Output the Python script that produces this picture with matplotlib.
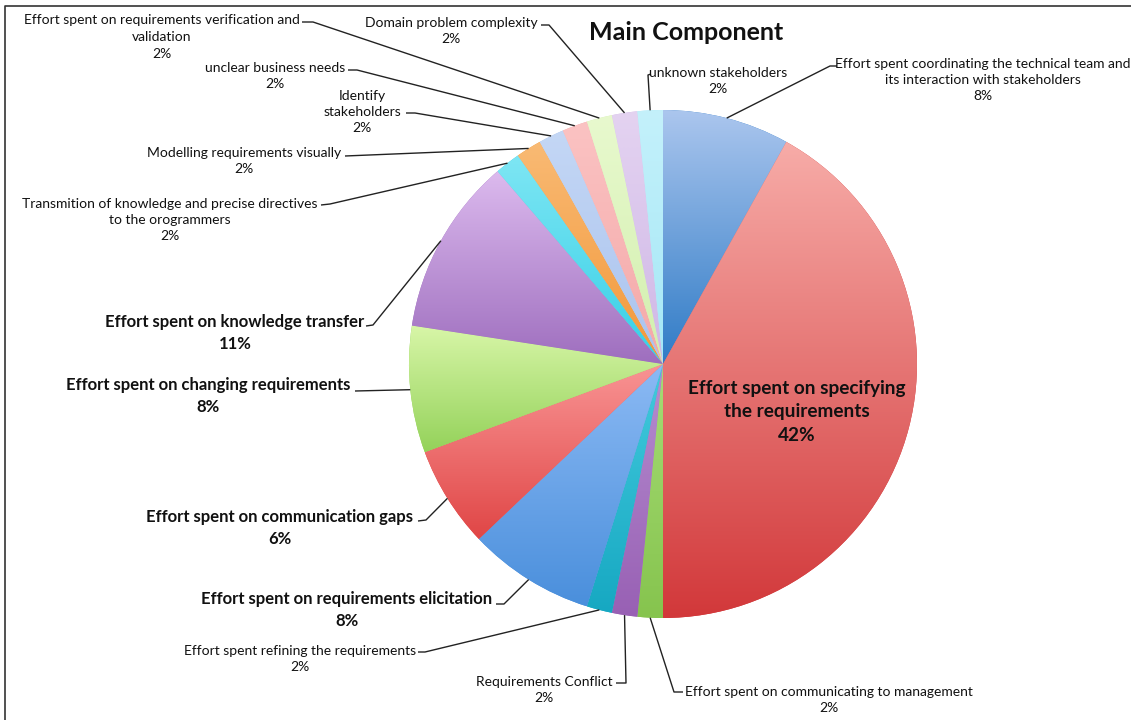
import matplotlib.pyplot as plt
import numpy as np
from matplotlib.colors import LinearSegmentedColormap

W, H = 1131, 720

labels = [
    "Effort spent coordinating the technical team and\nits interaction with stakeholders",
    "Effort spent on specifying\nthe requirements",
    "Effort spent on communicating to management",
    "Requirements Conflict",
    "Effort spent refining the requirements",
    "Effort spent on requirements elicitation",
    "Effort spent on communication gaps",
    "Effort spent on changing requirements",
    "Effort spent on knowledge transfer",
    "Transmition of knowledge and precise directives\nto the orogrammers",
    "Modelling requirements visually",
    "Identify\nstakeholders",
    "unclear business needs",
    "Effort spent on requirements verification and\nvalidation",
    "Domain problem complexity",
    "unknown stakeholders",
]
counts = [5, 26, 1, 1, 1, 5, 4, 5, 7, 1, 1, 1, 1, 1, 1, 1]
bold_labels = [1, 5, 6, 7, 8]

# gradient fill per slice: (top colour, bottom colour)
shades = [
    ("#abc6ee", "#2f7bc6"),
    ("#f7aca8", "#d2383a"),
    ("#a6dc76", "#86c44e"),
    ("#b68ed0", "#9860b4"),
    ("#44cadd", "#16a8c2"),
    ("#8cbaf4", "#4a8fdc"),
    ("#f99494", "#e04646"),
    ("#d8f6a8", "#94d25a"),
    ("#dcbaee", "#9e6ebe"),
    ("#7ee6f4", "#36cfe6"),
    ("#f9ba74", "#f2983a"),
    ("#c4d7f5", "#aac3ee"),
    ("#fbc3c3", "#f4a8a8"),
    ("#e8f9ce", "#d2efae"),
    ("#e4d3f1", "#cfb7e6"),
    ("#c4f1fb", "#a4e7f6"),
]

# label placement in pixel space (y down): block centre, then leader path from
# the elbow to the point next to the text
label_pos = [
    (983, 80), (797, 412), (829, 700), (544, 690), (300, 659), (347, 610),
    (280, 528), (208, 396), (235, 333), (170, 220), (244, 161), (362, 112),
    (275, 76), (162, 37), (451, 31), (718, 81),
]
leader_path = [
    [(830, 66), (837, 66)],
    None,
    [(674, 692), (683, 692)],
    [(626, 683), (616, 683)],
    [(425, 652), (418, 652)],
    [(504, 604), (496, 604)],
    [(426, 520), (418, 521)],
    [(355, 391)],
    [(373, 325), (366, 326)],
    [(330, 204), (321, 205)],
    [(345, 156)],
    [(415, 113), (406, 113)],
    [(357, 70), (348, 70)],
    [(313, 22), (302, 22)],
    [(549, 25), (541, 25)],
    [(648, 75), (651, 74)],
]

center_px = (663, 364)
radius = 254

plt.rcParams["font.family"] = ["Lato", "DejaVu Sans"]

fig = plt.figure(figsize=(W / 100, H / 100), dpi=100)
ax = fig.add_axes([0, 0, 1, 1])


def flip(y):
    return H - y


cx, cy = center_px[0], flip(center_px[1])
wedges, _ = ax.pie(
    counts,
    startangle=90,
    counterclock=False,
    center=(cx, cy),
    radius=radius,
    colors=[bottom for _, bottom in shades],
    wedgeprops=dict(linewidth=0),
    frame=True,
)
ax.set_xlim(0, W)
ax.set_ylim(0, H)
ax.set_aspect("equal")
ax.axis("off")

ramp = np.linspace(0, 1, 256).reshape(-1, 1)
for wedge, (top, bottom) in zip(wedges, shades):
    box = wedge.get_path().get_extents()
    cmap = LinearSegmentedColormap.from_list("shade", [bottom, top])
    img = ax.imshow(
        ramp,
        cmap=cmap,
        extent=[box.x0, box.x1, box.y0, box.y1],
        origin="lower",
        aspect="auto",
        interpolation="bilinear",
        zorder=2,
    )
    img.set_clip_path(wedge)

total = sum(counts)
for i, (wedge, text) in enumerate(zip(wedges, labels)):
    pct = f"{round(100 * counts[i] / total)}%"
    bold = i in bold_labels
    if i == 1:
        size = 13.7
    elif bold:
        size = 12
    else:
        size = 10
    x, y = label_pos[i]
    ax.text(
        x, flip(y), f"{text}\n{pct}",
        ha="center", va="center", multialignment="center",
        fontsize=size, fontweight="bold" if bold else "normal",
        color="#111111", linespacing=1.45, zorder=5,
    )
    if leader_path[i] is None:
        continue
    mid = np.deg2rad((wedge.theta1 + wedge.theta2) / 2)
    xs = [cx + radius * np.cos(mid)] + [p[0] for p in leader_path[i]]
    ys = [cy + radius * np.sin(mid)] + [flip(p[1]) for p in leader_path[i]]
    ax.plot(xs, ys, color="#222222", lw=1.0, zorder=4, solid_capstyle="butt")

ax.text(686, flip(33), "Main Component", ha="center", va="center",
        fontsize=18, fontweight="bold", color="#111111")

# frame along the top and left edges
ax.plot([5, 5, W], [0, flip(6), flip(6)], color="#333333", lw=1.2, zorder=6)

fig.savefig("out.png", dpi=100)
